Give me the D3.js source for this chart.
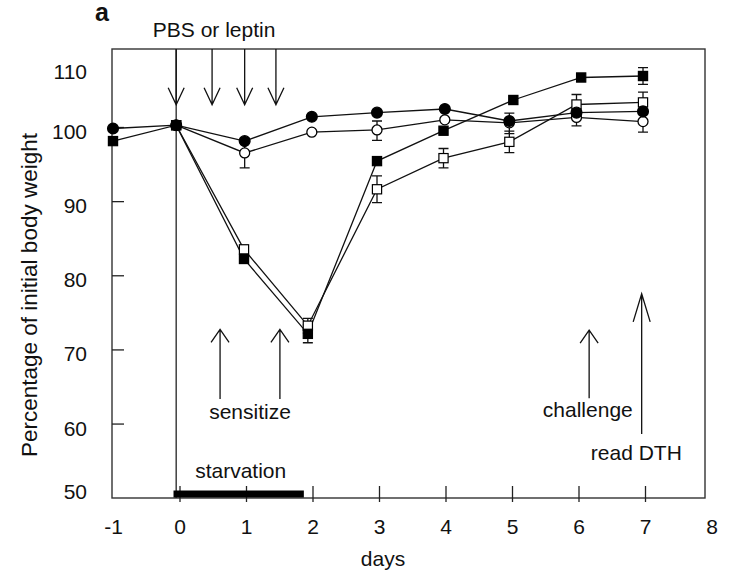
<!DOCTYPE html>
<html>
<head>
<meta charset="utf-8">
<script src="https://cdn.jsdelivr.net/npm/d3@7"></script>
<style>
  body { margin: 0; background: #fff; }
  text { font-family: "Liberation Sans", Arial, Helvetica, sans-serif; fill: #111; }
</style>
</head>
<body>
<div id="chart"></div>
<script>
// values (days, % of initial body weight)
var fcDays = [-1, -0.05, 0.98, 1.99, 2.97, 3.99, 4.96, 5.97, 6.97];
var fcVals = [99.8, 100.3, 98.1, 101.7, 102.4, 103.0, 101.0, 102.4, 102.6];
var fcErr  = [0, 0, 0, 0, 0, 0, 0, 0, 0.4];

var ocDays = [-0.05, 0.98, 1.99, 2.97, 3.99, 4.96, 5.97, 6.97];
var ocVals = [100.3, 96.5, 99.3, 99.6, 101.2, 100.7, 101.6, 100.9];
var ocErr  = [0, 2.0, 0, 1.4, 0, 1.6, 1.4, 1.6];

var fsDays = [-1, -0.05, 0.97, 1.93, 2.97, 3.97, 5.02, 6.04, 6.97];
var fsVals = [98.1, 100.3, 82.2, 72.1, 95.4, 99.5, 104.5, 108.25, 108.5];
var fsErr  = [0, 0, 0, 1.2, 0, 0, 0, 0, 1.4];

var osDays = [-0.05, 0.97, 1.93, 2.97, 3.97, 4.96, 5.97, 6.97];
var osVals = [100.3, 83.5, 73.2, 91.6, 95.8, 98.0, 103.75, 104.1];
var osErr  = [0, 0, 1.0, 1.8, 1.3, 1.45, 1.67, 1.7];

var xTicks = [-1, 0, 1, 2, 3, 4, 5, 6, 7, 8];
var yTicks = [50, 60, 70, 80, 90, 100, 110];

// annotations (day, from value, tip value)
var leptinDays = [-0.05, 0.49, 0.98, 1.45];
var sensitizeDays = [0.61, 1.51];
var challengeDay = 6.16;
var readDay = 6.95;
var starveFrom = -0.09, starveTo = 1.87;

var width = 729, height = 571;
var frame = {left: 112, top: 49, right: 705, bottom: 498};
var fs = "21px";

var svg = d3.select("#chart").append("svg")
  .attr("width", width)
  .attr("height", height);

var x = d3.scaleLinear().domain([-1, 8]).range([113, 711.5]);
// the printed axis is not quite linear above 100
var y = d3.scaleLinear().domain([50, 100, 110]).range([497.7, 127, 67]);

// frame
svg.append("rect")
  .attr("x", frame.left).attr("y", frame.top)
  .attr("width", frame.right - frame.left)
  .attr("height", frame.bottom - frame.top)
  .attr("fill", "none")
  .attr("stroke", "#333")
  .attr("stroke-width", 1.4);

// x axis
var gx = svg.append("g")
  .attr("transform", "translate(0," + frame.bottom + ")")
  .call(d3.axisBottom(x).tickValues(xTicks).tickFormat(d => String(d)).tickSize(4));
gx.select(".domain").remove();
gx.selectAll(".tick line")
  .attr("y1", -12)
  .attr("stroke", "#222")
  .attr("stroke-width", 1.3)
  .attr("display", d => (d === -1 || d === 8) ? "none" : null);
gx.selectAll(".tick text")
  .attr("y", 36).attr("dy", 0)
  .style("font-size", fs)
  .attr("fill", "#111");

// y axis
var gy = svg.append("g")
  .attr("transform", "translate(" + frame.left + ",0)")
  .call(d3.axisLeft(y).tickValues(yTicks).tickSize(-12).tickPadding(25));
gy.select(".domain").remove();
gy.selectAll(".tick line")
  .attr("stroke", "#222")
  .attr("stroke-width", 1.3)
  .attr("display", d => (d === 50 || d === 110) ? "none" : null);
gy.selectAll(".tick text")
  .attr("dy", d => d === 50 ? "0.05em" : "0.55em")
  .style("font-size", fs)
  .attr("fill", "#111");

// axis titles
svg.append("text")
  .attr("x", 383).attr("y", 566)
  .attr("text-anchor", "middle")
  .style("font-size", fs)
  .text("days");

svg.append("text")
  .attr("transform", "translate(37,457) rotate(-90)")
  .attr("text-anchor", "start")
  .style("font-size", "22.5px")
  .text("Percentage of initial body weight");

svg.append("text")
  .attr("x", 95).attr("y", 21)
  .style("font-size", "25px")
  .style("font-weight", "bold")
  .text("a");

svg.append("text")
  .attr("x", x(0.52)).attr("y", 37)
  .attr("text-anchor", "middle")
  .style("font-size", fs)
  .text("PBS or leptin");

// arrows
function arrow(day, fromVal, tipVal, headLen, headHalf) {
  var ax = x(day), y0 = y(fromVal), y1 = y(tipVal);
  var dir = y1 > y0 ? -1 : 1;
  svg.append("path")
    .attr("d", "M" + ax + "," + y0 + "L" + ax + "," + y1 +
      "M" + (ax - headHalf) + "," + (y1 + dir * headLen) +
      "L" + ax + "," + y1 +
      "L" + (ax + headHalf) + "," + (y1 + dir * headLen))
    .attr("fill", "none")
    .attr("stroke", "#111")
    .attr("stroke-width", 1.3);
}

// day 0 line down the whole frame
svg.append("line")
  .attr("x1", x(-0.05)).attr("x2", x(-0.05))
  .attr("y1", y(113)).attr("y2", y(50))
  .attr("stroke", "#222")
  .attr("stroke-width", 1.3);

leptinDays.forEach(d => arrow(d, 113, 103.7, 17, 8));
sensitizeDays.forEach(d => arrow(d, 63.3, 72.7, 13, 9));
arrow(challengeDay, 63.4, 72.6, 13, 9);
arrow(readDay, 58.6, 77.5, 28, 8.5);

svg.append("text")
  .attr("x", x(1.06)).attr("y", y(60.6))
  .attr("text-anchor", "middle")
  .style("font-size", fs)
  .text("sensitize");
svg.append("text")
  .attr("x", x(6.14)).attr("y", y(60.9))
  .attr("text-anchor", "middle")
  .style("font-size", fs)
  .text("challenge");
svg.append("text")
  .attr("x", x(6.87)).attr("y", y(55.1))
  .attr("text-anchor", "middle")
  .style("font-size", fs)
  .text("read DTH");
svg.append("text")
  .attr("x", x(0.92)).attr("y", y(52.7))
  .attr("text-anchor", "middle")
  .style("font-size", fs)
  .text("starvation");

// starvation bar
svg.append("line")
  .attr("x1", x(starveFrom)).attr("x2", x(starveTo))
  .attr("y1", y(50.5)).attr("y2", y(50.5))
  .attr("stroke", "#000")
  .attr("stroke-width", 7);

// series
function pack(days, vals, errs) {
  return days.map((d, i) => ({day: d, v: vals[i], e: errs[i]}));
}
var series = [
  {pts: pack(osDays, osVals, osErr), shape: "square", fill: "#fff"},
  {pts: pack(fsDays, fsVals, fsErr), shape: "square", fill: "#000"},
  {pts: pack(ocDays, ocVals, ocErr), shape: "circle", fill: "#fff"},
  {pts: pack(fcDays, fcVals, fcErr), shape: "circle", fill: "#000"}
];

var line = d3.line().x(d => x(d.day)).y(d => y(d.v));

series.forEach(s => {
  svg.append("path")
    .attr("d", line(s.pts))
    .attr("fill", "none")
    .attr("stroke", "#111")
    .attr("stroke-width", 1.3);
});

series.forEach(s => {
  var eb = s.pts.filter(d => d.e > 0);
  var g = svg.append("g").attr("stroke", "#111").attr("stroke-width", 1.3);
  g.selectAll("path.err").data(eb).join("path")
    .attr("d", d => {
      var cx = x(d.day), t = y(d.v + d.e), b = y(d.v - d.e);
      return "M" + cx + "," + t + "L" + cx + "," + b +
        "M" + (cx - 5) + "," + t + "L" + (cx + 5) + "," + t +
        "M" + (cx - 5) + "," + b + "L" + (cx + 5) + "," + b;
    });
});

series.forEach(s => {
  var g = svg.append("g");
  if (s.shape === "circle") {
    g.selectAll("circle").data(s.pts).join("circle")
      .attr("cx", d => x(d.day))
      .attr("cy", d => y(d.v))
      .attr("r", s.fill === "#000" ? 5.4 : 5)
      .attr("fill", s.fill)
      .attr("stroke", "#000")
      .attr("stroke-width", 1.3);
  } else {
    g.selectAll("rect").data(s.pts).join("rect")
      .attr("x", d => x(d.day) - 4.6)
      .attr("y", d => y(d.v) - 4.6)
      .attr("width", 9.2)
      .attr("height", 9.2)
      .attr("fill", s.fill)
      .attr("stroke", "#000")
      .attr("stroke-width", 1.2);
  }
});
</script>
</body>
</html>
